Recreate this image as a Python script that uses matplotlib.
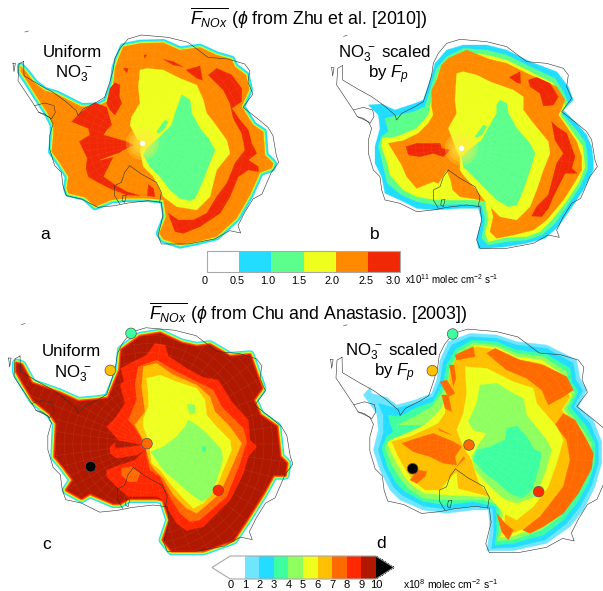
#!/usr/bin/env python3
"""Antarctic NOx flux maps, four panels with two discrete colour bars."""

import matplotlib
matplotlib.use("Agg")
import matplotlib.pyplot as plt
from matplotlib.colors import BoundaryNorm, ListedColormap
from matplotlib.cm import ScalarMappable
from matplotlib.patches import Polygon
import numpy as np

plt.rcParams["font.family"] = ["Liberation Sans", "DejaVu Sans"]
plt.rcParams["mathtext.fontset"] = "custom"
plt.rcParams["mathtext.rm"] = "Liberation Sans"
plt.rcParams["mathtext.it"] = "Liberation Sans:italic"
plt.rcParams["mathtext.bf"] = "Liberation Sans:bold"
plt.rcParams["mathtext.default"] = "regular"

W, H = 603, 591

# ── colours ─────────────────────────────────────────────────────────────────
TOP_COLORS = ["#ffffff", "#22ddff", "#5cff8c", "#eeff1e", "#ff8a00", "#f02805"]
TOP_BOUNDS = [0, 0.5, 1.0, 1.5, 2.0, 2.5, 3.0]
TOP_LABELS = ["0", "0.5", "1.0", "1.5", "2.0", "2.5", "3.0"]
TOP_LABEL_X = [205, 237, 268, 299, 332, 366, 393]
LOW_COLORS = ["#ffffff", "#6fe5ff", "#22ddff", "#3dffa0", "#8fff60",
              "#eeff1e", "#ffc000", "#ff6a00", "#ff2800", "#b01800"]
LOW_BOUNDS = [0, 1, 2, 3, 4, 5, 6, 7, 8, 9, 10]
CYAN, GREEN, YELLOW, ORANGE, RED = TOP_COLORS[1:]
L1, L2, L3, L4, L5, L6, L7, L8, DARK = LOW_COLORS[1:]

# ── outlines (map units, 3 units = 1 pixel) ────────────────────────────────
COAST = [(127, 197), (128, 240), (175, 268), (215, 290), (250, 315), (285, 345), (290, 360),
         (305, 340), (345, 320), (370, 305), (385, 260), (395, 225), (400, 190), (415, 160),
         (440, 130), (480, 118), (560, 125), (620, 140), (680, 185), (740, 190), (790, 205),
         (805, 225), (800, 260), (815, 295), (785, 335), (830, 370), (860, 395), (875, 420),
         (885, 480), (892, 500), (870, 530), (842, 595), (815, 610), (790, 650), (770, 690),
         (778, 712), (745, 705), (700, 730), (620, 745), (540, 745), (530, 720), (545, 660),
         (540, 620), (500, 615), (440, 622), (400, 630), (350, 635), (300, 610), (255, 600),
         (245, 570), (240, 530), (220, 510), (205, 460), (205, 420), (215, 385), (205, 365),
         (172, 350), (160, 330), (110, 255), (113, 205), (127, 197)]
ROSS_LINE = [(445, 510), (480, 535), (525, 560), (540, 590), (535, 620)]
RONNE_LINE = [(445, 510), (430, 530), (420, 560), (400, 570), (400, 600), (415, 625)]
BERKNER = [(425, 600), (435, 598), (430, 620), (422, 615), (425, 600)]
SHELF = [(160, 330), (190, 322), (218, 330), (222, 350), (210, 370), (190, 355), (172, 350)]
ISLAND = [(95, 203), (102, 203), (98, 228), (95, 203)]
TIP_ROCK = [(131, 109), (141, 106)]

A_POLE = (427, 430)
B_POLE = (483, 443)
C_POLE = (441, 431)
D_POLE = (507, 435)

A_ORANGE = [(62, 198), (78, 215), (105, 250), (135, 272), (170, 282), (215, 305), (245, 320),
            (295, 318), (320, 305), (340, 250), (345, 205), (355, 175), (370, 140), (420, 130),
            (490, 128), (540, 150), (600, 142), (650, 165), (695, 178), (705, 200), (738, 225),
            (748, 268), (725, 320), (760, 375), (790, 395), (795, 465), (820, 490), (815, 505),
            (780, 518), (750, 585), (710, 655), (650, 710), (590, 725), (540, 735), (490, 718),
            (478, 700), (498, 650), (490, 600), (440, 595), (380, 595), (335, 600), (285, 620),
            (255, 592), (205, 580), (200, 565), (205, 530), (180, 490), (155, 455), (160, 405),
            (160, 375), (140, 335), (110, 290), (85, 250), (62, 215)]
A_YELLOW = [(420, 210), (440, 205), (490, 210), (540, 235), (590, 255), (610, 300), (620, 340),
            (640, 365), (680, 420), (690, 460), (650, 510), (630, 590), (590, 630), (530, 620),
            (490, 590), (460, 530), (430, 500), (420, 450), (430, 430), (410, 415), (390, 375),
            (395, 350), (420, 310), (415, 260)]
A_GREEN = [(545, 285), (555, 290), (570, 300), (575, 340), (600, 385), (625, 415), (645, 450),
           (625, 500), (610, 540), (585, 595), (570, 602), (540, 595), (510, 570), (480, 530),
           (450, 500), (430, 465), (440, 445), (480, 410), (515, 375), (525, 340)]
A_GREEN_2 = [(470, 395), (495, 360), (505, 365), (490, 390), (475, 400)]
A_RED = [
    [(215, 365), (245, 335), (285, 308), (320, 322), (335, 375), (320, 390), (310, 405), (380, 425),
     (400, 435), (370, 450), (340, 470), (320, 510), (310, 530), (345, 555), (380, 575), (420, 587),
     (380, 585), (330, 565), (290, 545), (265, 530), (258, 505), (262, 475), (238, 425), (270, 405),
     (265, 385)],
    [(320, 310), (330, 265), (345, 248), (360, 255), (358, 290), (365, 310), (345, 345), (330, 330)],
    [(490, 178), (520, 185), (548, 200), (520, 195)],
    [(558, 210), (600, 198), (607, 240), (590, 235)],
    [(625, 225), (650, 205), (695, 225), (725, 265), (725, 305), (695, 325), (720, 360), (745, 390),
     (755, 430), (770, 460), (745, 480), (775, 500), (775, 515), (745, 510), (715, 530), (690, 590),
     (660, 640), (600, 680), (550, 700), (525, 695), (505, 640), (535, 660), (580, 660), (620, 640),
     (650, 590), (680, 550), (705, 490), (735, 450), (725, 400), (700, 355), (690, 310), (670, 270)],
    [(445, 553), (460, 565), (465, 590), (442, 588)],
    [(370, 205), (385, 205), (380, 218)],
    [(432, 165), (440, 165), (434, 175)],
]
A_NOTCH = [(398, 450), (345, 463), (300, 480), (345, 470)]

B_CYAN = [(205, 315), (245, 312), (285, 330), (345, 310), (370, 300), (385, 255), (395, 225),
          (405, 190), (440, 150), (490, 135), (560, 135), (620, 150), (690, 185), (770, 215),
          (805, 260), (820, 300), (790, 330), (830, 370), (860, 405), (875, 440), (880, 480),
          (880, 510), (850, 570), (810, 630), (775, 680), (735, 715), (680, 730), (620, 740),
          (560, 745), (535, 745), (530, 715), (545, 660), (535, 625), (480, 625), (410, 630),
          (350, 625), (300, 600), (255, 580), (245, 530), (225, 490), (225, 440), (240, 385),
          (235, 345)]
B_GREEN = [(255, 355), (300, 345), (340, 335), (375, 320), (395, 255), (410, 205), (440, 170),
           (490, 145), (560, 150), (620, 165), (690, 200), (765, 235), (790, 275), (805, 310),
           (785, 340), (825, 385), (855, 425), (862, 470), (862, 510), (840, 560), (800, 620),
           (765, 670), (725, 705), (680, 720), (620, 725), (565, 735), (545, 715), (555, 660),
           (545, 615), (480, 612), (410, 615), (350, 605), (305, 585), (262, 550), (250, 500),
           (235, 440), (245, 410), (265, 395)]
B_YELLOW = [(247, 415), (290, 410), (350, 385), (385, 345), (400, 270), (415, 220), (440, 185),
            (490, 155), (560, 165), (620, 180), (690, 215), (760, 250), (780, 285), (795, 315),
            (780, 345), (820, 400), (848, 440), (855, 500), (835, 550), (795, 610), (755, 660),
            (720, 695), (680, 710), (620, 712), (565, 725), (555, 700), (565, 660), (555, 605),
            (525, 600), (480, 600), (410, 600), (350, 590), (310, 570), (270, 525), (262, 490),
            (245, 440)]
B_ORANGE = [(265, 430), (310, 422), (355, 400), (385, 370), (400, 345), (395, 320), (395, 270),
            (410, 240), (425, 195), (445, 175), (500, 150), (570, 178), (620, 190), (685, 222),
            (770, 260), (795, 300), (785, 325), (775, 345), (800, 380), (830, 425), (845, 470),
            (845, 510), (825, 545), (790, 600), (740, 660), (700, 690), (640, 705), (590, 715),
            (570, 695), (580, 650), (570, 610), (530, 598), (480, 590), (458, 570), (452, 540),
            (440, 510), (415, 550), (400, 545), (350, 565), (320, 530), (305, 495)]
B_YELLOW_2 = [(470, 220), (490, 215), (530, 225), (570, 245), (640, 270), (670, 290), (670, 330),
              (700, 370), (745, 425), (750, 460), (730, 510), (710, 570), (690, 620), (650, 660),
              (600, 650), (560, 610), (530, 570), (490, 525), (480, 510), (480, 470), (470, 450),
              (445, 385), (470, 340), (465, 300)]
B_GREEN_2 = [(600, 300), (620, 310), (625, 340), (650, 385), (690, 430), (705, 460), (690, 510),
             (670, 570), (650, 615), (625, 620), (590, 600), (550, 560), (510, 520), (490, 500),
             (485, 470), (500, 455), (545, 420), (570, 375), (590, 340), (590, 315)]
B_GREEN_3 = [(525, 410), (550, 375), (560, 380), (545, 405), (530, 412)]
B_RED = [
    [(318, 440), (350, 430), (420, 430), (425, 445), (450, 450), (440, 460), (430, 470), (400, 460),
     (360, 470), (325, 465)],
    [(628, 232), (660, 215), (662, 250), (650, 248)],
    [(685, 240), (710, 232), (750, 250), (775, 290), (760, 315), (730, 318), (720, 280), (690, 260)],
    [(755, 365), (770, 380), (800, 400), (825, 470), (815, 505), (832, 520), (795, 520), (760, 590),
     (745, 625), (725, 650), (695, 648), (710, 620), (745, 585), (770, 490), (790, 460), (765, 420)],
]

C_DARK = [(50, 190), (65, 195), (95, 250), (130, 262), (180, 280), (235, 305), (290, 300),
          (325, 295), (360, 210), (365, 150), (420, 110), (480, 100), (545, 130), (590, 140),
          (630, 135), (690, 170), (750, 165), (785, 265), (760, 300), (780, 345), (830, 380),
          (840, 470), (860, 490), (855, 525), (820, 525), (790, 580), (740, 660), (700, 720),
          (610, 752), (515, 752), (490, 720), (510, 660), (490, 600), (470, 595), (385, 595),
          (360, 610), (340, 610), (270, 580), (245, 595), (200, 570), (220, 540), (190, 500),
          (165, 470), (170, 370), (150, 340), (100, 300), (70, 250), (50, 215)]
C_RED = [(400, 185), (440, 165), (465, 130), (495, 135), (505, 168), (560, 205), (610, 232),
         (655, 240), (695, 305), (745, 360), (750, 420), (770, 440), (745, 470), (730, 520),
         (690, 600), (650, 640), (610, 680), (560, 692), (530, 670), (505, 630), (490, 600),
         (470, 590), (385, 590), (355, 565), (320, 530), (320, 510), (360, 495), (405, 480),
         (435, 450), (410, 465), (350, 475), (330, 460), (330, 440), (355, 420), (320, 380),
         (345, 355), (375, 310), (360, 255), (372, 245), (362, 205)]
C_DARK_2 = [(345, 420), (425, 435), (345, 445)]
C_ORANGE = [(415, 200), (470, 180), (530, 215), (590, 245), (640, 270), (665, 320), (730, 385),
            (740, 425), (720, 490), (680, 590), (640, 625), (600, 660), (570, 665), (540, 640),
            (515, 600), (480, 530), (450, 510), (440, 470), (440, 440), (400, 375), (385, 360),
            (410, 300), (405, 250)]
C_ORANGE_2 = [(365, 505), (395, 500), (420, 520), (410, 545), (385, 545), (365, 525)]
C_GOLD = [(430, 200), (470, 190), (520, 225), (590, 255), (630, 290), (645, 335), (690, 380),
          (725, 430), (700, 490), (660, 580), (620, 615), (590, 640), (560, 625), (520, 585),
          (490, 535), (465, 510), (450, 490), (440, 455), (430, 420), (405, 375), (435, 335),
          (425, 260)]
C_YELLOW = [(440, 235), (480, 225), (530, 245), (590, 265), (615, 300), (620, 345), (650, 380),
            (690, 420), (695, 450), (670, 510), (650, 560), (610, 610), (580, 625), (545, 590),
            (510, 550), (480, 510), (455, 490), (450, 450), (445, 420), (430, 380), (430, 355),
            (445, 320), (445, 280)]
C_LGREEN = [(565, 360), (590, 375), (620, 400), (665, 450), (668, 480), (650, 540), (630, 590),
            (605, 605), (570, 580), (530, 545), (490, 510), (470, 480), (452, 455), (490, 440),
            (530, 410), (555, 380)]
C_LGREEN_2 = [(562, 312), (585, 315), (585, 340), (568, 342)]
C_TEAL = [(606, 440), (618, 440), (616, 455), (608, 455)]

D_LCYAN = [(190, 285), (210, 262), (215, 280), (260, 292), (290, 315), (345, 300), (395, 280),
           (410, 240), (420, 180), (445, 125), (510, 100), (590, 105), (650, 125), (740, 135),
           (830, 180), (840, 235), (860, 270), (835, 320), (880, 360), (905, 425), (905, 490),
           (885, 560), (850, 630), (810, 680), (740, 730), (640, 752), (560, 752), (570, 690),
           (565, 630), (520, 630), (440, 640), (370, 630), (300, 600), (270, 570), (240, 510),
           (220, 450), (235, 390), (230, 340)]
D_CYAN = [(235, 310), (290, 325), (345, 310), (400, 290), (420, 245), (430, 185), (455, 135),
          (510, 110), (590, 115), (650, 135), (740, 145), (820, 190), (828, 240), (848, 272),
          (822, 320), (870, 370), (895, 430), (895, 490), (875, 555), (840, 620), (800, 670),
          (735, 720), (640, 742), (575, 745), (582, 690), (578, 625), (520, 618), (440, 628),
          (370, 618), (305, 585), (280, 560), (252, 505), (235, 450), (250, 400), (250, 345)]
D_TEAL = [(265, 345), (300, 350), (345, 325), (400, 305), (430, 250), (440, 195), (465, 150),
          (515, 120), (590, 125), (650, 150), (735, 160), (810, 205), (815, 245), (835, 275),
          (812, 322), (860, 380), (885, 430), (885, 490), (865, 550), (830, 610), (790, 660),
          (730, 705), (640, 730), (585, 735), (590, 690), (588, 620), (520, 605), (440, 615),
          (370, 605), (315, 575), (290, 550), (262, 500), (245, 445), (260, 410), (280, 395),
          (270, 370)]
D_LGREEN = [(290, 375), (345, 350), (395, 320), (440, 260), (448, 205), (475, 155), (520, 128),
            (590, 135), (650, 160), (730, 170), (800, 215), (805, 250), (825, 280), (800, 325),
            (850, 390), (875, 430), (875, 490), (855, 545), (820, 600), (780, 650), (725, 690),
            (640, 720), (592, 722), (598, 690), (598, 615), (550, 600), (440, 600), (370, 595),
            (325, 565), (300, 535), (272, 490), (255, 440), (280, 415), (335, 400), (370, 375)]
D_YELLOW = [(262, 425), (330, 395), (375, 375), (405, 345), (425, 325), (445, 265), (452, 215),
            (480, 165), (525, 135), (590, 142), (650, 170), (725, 180), (790, 225), (795, 255),
            (815, 285), (790, 328), (840, 395), (865, 435), (865, 490), (845, 540), (810, 595),
            (770, 640), (715, 680), (640, 708), (600, 712), (606, 690), (610, 610), (560, 590),
            (440, 585), (375, 580), (335, 555), (310, 525), (285, 480), (265, 440)]
D_GOLD = [(275, 425), (330, 410), (385, 385), (415, 370), (435, 340), (440, 280), (450, 220),
          (470, 170), (530, 140), (590, 150), (650, 178), (720, 190), (785, 232), (790, 260),
          (810, 290), (785, 330), (835, 400), (858, 440), (858, 490), (838, 535), (803, 590),
          (760, 635), (705, 672), (640, 698), (612, 700), (618, 610), (570, 590), (475, 565),
          (470, 515), (440, 545), (420, 570), (375, 570), (345, 545), (320, 515), (295, 470)]
D_YELLOW_2 = [(495, 200), (560, 205), (640, 245), (700, 265), (710, 310), (770, 380), (790, 420),
              (770, 490), (745, 560), (700, 620), (650, 660), (610, 640), (570, 590), (535, 545),
              (515, 480), (490, 440), (470, 390), (490, 340), (500, 280)]
D_LGREEN_2 = [(540, 255), (590, 250), (640, 280), (670, 295), (680, 345), (740, 420), (755, 450),
              (735, 520), (705, 590), (650, 610), (610, 595), (560, 550), (525, 510), (515, 470),
              (535, 435), (560, 400), (520, 390), (505, 365), (530, 310)]
D_TEAL_2 = [(620, 385), (650, 378), (680, 410), (700, 445), (725, 460), (715, 510), (695, 570),
            (665, 595), (630, 580), (590, 545), (555, 520), (520, 480), (530, 450), (570, 440),
            (615, 420)]
D_ORANGE = [
    [(305, 430), (350, 415), (400, 400), (460, 425), (485, 440), (465, 470), (470, 495), (430, 490),
     (390, 470), (340, 455)],
    [(330, 540), (345, 520), (355, 510), (380, 515), (375, 530), (350, 550)],
    [(465, 165), (520, 140), (525, 170), (470, 180)],
    [(560, 160), (585, 145), (660, 180), (730, 195), (800, 230), (820, 270), (790, 290), (745, 315),
     (725, 270), (680, 235), (620, 210)],
    [(420, 245), (440, 240), (465, 280), (445, 290)],
    [(425, 285), (445, 285), (455, 335), (435, 325)],
    [(448, 195), (462, 195), (468, 235), (460, 260)],
    [(765, 375), (790, 340), (825, 360), (860, 420), (880, 460), (875, 505), (835, 580), (790, 640),
     (730, 680), (690, 700), (668, 690), (720, 650), (790, 560), (810, 480), (800, 420)],
    [(590, 640), (615, 670), (640, 690), (625, 720), (605, 695)],
    [(415, 385), (455, 405), (420, 392)],
    [(470, 500), (490, 470), (495, 475)],
]

# sampling sites on the lower maps
SITE_COLORS = [L3, L6, L7, L8, "black"]
C_SITES_X = [393, 331, 441, 655, 272]
C_SITES_Y = [100, 211, 431, 571, 500]
D_SITES_X = [458, 397, 507, 716, 338]
D_SITES_Y = [102, 212, 435, 575, 506]


def fig_axes(fig, x, y, w, h):
    """Axes from a pixel box given from the top left of the figure."""
    return fig.add_axes([x / W, 1 - (y + h) / H, w / W, h / H])


def map_axes(fig, x, y, w, h):
    ax = fig_axes(fig, x, y, w, h)
    ax.set_xlim(0, w * 3)
    ax.set_ylim(h * 3, 0)
    ax.axis("off")
    ax.patch.set_alpha(0)
    return ax


def fill(ax, outline, color, zorder=2, **kw):
    patch = Polygon(outline, closed=True, facecolor=color, edgecolor=color,
                    linewidth=kw.pop("linewidth", 0.2), zorder=zorder, clip_on=False, **kw)
    ax.add_patch(patch)
    return patch


def bands(ax, outline, widths, colors):
    """Narrow contour bands hugging the outline, drawn as wide edges."""
    for lw, color in zip(widths, colors):
        ax.add_patch(Polygon(outline, closed=True, facecolor=color, edgecolor=color,
                             linewidth=lw, joinstyle="round", zorder=1.5, clip_on=False))


def grid(ax, pole, clip_outline, scale, alpha):
    """Faint model grid, it shows as thin light lines in the colours."""
    clip = Polygon(clip_outline, closed=True, transform=ax.transData)
    px, py = pole
    for ang in np.deg2rad(np.arange(0, 360, 7.5)):
        line, = ax.plot([px, px + 430 * scale * np.cos(ang)], [py, py + 430 * scale * np.sin(ang)],
                        color="white", lw=0.25, alpha=alpha, zorder=4)
        line.set_clip_path(clip)
    for rad in np.arange(40, 430, 24):
        t = np.linspace(0, 2 * np.pi, 180)
        line, = ax.plot(px + rad * scale * np.cos(t), py + rad * scale * np.sin(t),
                        color="white", lw=0.25, alpha=alpha, zorder=4)
        line.set_clip_path(clip)


def glow(ax, pole, colour, radii, alpha):
    for rad in radii:
        ax.scatter([pole[0]], [pole[1]], s=(rad / 3 * 2 * 0.72) ** 2, color=colour,
                   alpha=alpha, linewidths=0, zorder=5)


def coast(ax, pole, scale):
    for line in [COAST, ROSS_LINE, RONNE_LINE, BERKNER, SHELF, ISLAND, TIP_ROCK]:
        xy = np.array(line, dtype=float)
        ax.plot(pole[0] + (xy[:, 0] - B_POLE[0]) * scale, pole[1] + (xy[:, 1] - B_POLE[1]) * scale,
                color="#303030", lw=0.4, zorder=6, clip_on=False)


def sites(ax, xs, ys):
    ax.scatter(xs, ys, s=58, c=SITE_COLORS, edgecolors="#555555", linewidths=0.5,
               zorder=8, clip_on=False)


def colorbar(fig, box, colors, bounds, extend):
    cax = fig_axes(fig, *box)
    cmap = ListedColormap(colors)
    if extend == "both":
        cmap = cmap.with_extremes(under="white", over="black")
    norm = BoundaryNorm(bounds, len(colors))
    cb = fig.colorbar(ScalarMappable(norm=norm, cmap=cmap), cax=cax, orientation="horizontal",
                      extend=extend, extendfrac=0.125 if extend == "both" else None,
                      spacing="uniform", drawedges=False)
    cb.outline.set_edgecolor("#a8a8a8")
    cb.outline.set_linewidth(0.8)
    cb.minorticks_off()
    cax.tick_params(length=0, pad=0.5)
    return cb


def main():
    fig = plt.figure(figsize=(W / 100, H / 100), dpi=100)

    # a
    ax = map_axes(fig, 0, 0, 300, 250)
    bands(ax, A_ORANGE, [5.2, 2.9, 1.4], [CYAN, GREEN, YELLOW])
    fill(ax, A_ORANGE, ORANGE)
    for part in A_RED:
        fill(ax, part, RED, zorder=2.2)
    fill(ax, A_NOTCH, ORANGE, zorder=2.3)
    fill(ax, A_YELLOW, YELLOW, zorder=2.4)
    fill(ax, A_GREEN, GREEN, zorder=2.6)
    fill(ax, A_GREEN_2, GREEN, zorder=2.6)
    grid(ax, A_POLE, A_ORANGE, 1.0, 0.12)
    glow(ax, A_POLE, "#ffee40", [50, 40, 30, 22], 0.25)
    glow(ax, A_POLE, "white", [8], 1.0)
    coast(ax, A_POLE, 1.0)

    # b
    ax = map_axes(fig, 300, 0, 303, 250)
    fill(ax, B_CYAN, CYAN)
    fill(ax, B_GREEN, GREEN, zorder=2.1)
    fill(ax, B_YELLOW, YELLOW, zorder=2.2)
    fill(ax, B_ORANGE, ORANGE, zorder=2.3)
    for part in B_RED:
        fill(ax, part, RED, zorder=2.4)
    fill(ax, B_YELLOW_2, YELLOW, zorder=2.5)
    fill(ax, B_GREEN_2, GREEN, zorder=2.6)
    fill(ax, B_GREEN_3, GREEN, zorder=2.6)
    grid(ax, B_POLE, B_ORANGE, 1.0, 0.12)
    glow(ax, B_POLE, "#ffee40", [50, 40, 30, 22], 0.25)
    glow(ax, B_POLE, "white", [8], 1.0)
    coast(ax, B_POLE, 1.0)

    # c
    ax = map_axes(fig, 0, 300, 300, 250)
    bands(ax, C_DARK, [6.8, 5.4, 4.1, 2.9, 1.6], [CYAN, GREEN, YELLOW, L7, L8])
    fill(ax, C_DARK, DARK)
    fill(ax, C_RED, L8, zorder=2.1)
    fill(ax, C_DARK_2, DARK, zorder=2.15)
    fill(ax, C_ORANGE, L7, zorder=2.2)
    fill(ax, C_ORANGE_2, L7, zorder=2.2)
    fill(ax, C_GOLD, L6, zorder=2.3)
    fill(ax, C_YELLOW, L5, zorder=2.4)
    fill(ax, C_LGREEN, L4, zorder=2.5)
    fill(ax, C_LGREEN_2, L4, zorder=2.5)
    fill(ax, C_TEAL, L3, zorder=2.6)
    grid(ax, C_POLE, C_DARK, 1.07, 0.14)
    coast(ax, C_POLE, 1.07)
    sites(ax, C_SITES_X, C_SITES_Y)

    # d
    ax = map_axes(fig, 300, 300, 303, 250)
    fill(ax, D_LCYAN, L1)
    fill(ax, D_CYAN, L2, zorder=2.05)
    fill(ax, D_TEAL, L3, zorder=2.1)
    fill(ax, D_LGREEN, L4, zorder=2.15)
    fill(ax, D_YELLOW, L5, zorder=2.2)
    fill(ax, D_GOLD, L6, zorder=2.25)
    for part in D_ORANGE:
        fill(ax, part, L7, zorder=2.3)
    fill(ax, D_YELLOW_2, L5, zorder=2.35)
    fill(ax, D_LGREEN_2, L4, zorder=2.4)
    fill(ax, D_TEAL_2, L3, zorder=2.45)
    grid(ax, D_POLE, D_LCYAN, 1.07, 0.12)
    coast(ax, D_POLE, 1.07)
    sites(ax, D_SITES_X, D_SITES_Y)

    # colour bars
    cb = colorbar(fig, (207, 251, 193, 21), TOP_COLORS, TOP_BOUNDS, "neither")
    cb.set_ticks(TOP_BOUNDS, labels=[])
    cb = colorbar(fig, (212, 556, 182, 23), LOW_COLORS, LOW_BOUNDS, "both")
    cb.set_ticks(LOW_BOUNDS, labels=[str(b) for b in LOW_BOUNDS], fontsize=8)

    # text on a pixel overlay
    ov = fig_axes(fig, 0, 0, W, H)
    ov.set_xlim(0, W)
    ov.set_ylim(H, 0)
    ov.axis("off")
    ov.patch.set_alpha(0)

    no3 = r"NO$_3^{\,-}$"
    fpit = r"by $\mathit{F_p}$"
    ov.text(190, 25, r"$\overline{\mathit{F_{NOx}}}$ ($\mathit{\phi}$ from Zhu et al. [2010])",
            fontsize=12.8, va="baseline")
    ov.text(149, 320, r"$\overline{\mathit{F_{NOx}}}$ ($\mathit{\phi}$ from Chu and Anastasio. [2003])",
            fontsize=12.8, va="baseline")
    ov.text(72, 57, "Uniform", fontsize=12.2, ha="center", va="baseline")
    ov.text(74, 78, no3, fontsize=12.2, ha="center", va="baseline")
    ov.text(384, 57, no3 + " scaled", fontsize=12.2, ha="center", va="baseline")
    ov.text(389, 78, fpit, fontsize=12.2, ha="center", va="baseline")
    ov.text(71, 356, "Uniform", fontsize=12.2, ha="center", va="baseline")
    ov.text(73, 377, no3, fontsize=12.2, ha="center", va="baseline")
    ov.text(391, 355, no3 + " scaled", fontsize=12.2, ha="center", va="baseline")
    ov.text(395, 376, fpit, fontsize=12.2, ha="center", va="baseline")
    for x, y, lab in [(40, 239, "a"), (370, 239, "b"), (42, 549, "c"), (376, 548, "d")]:
        ov.text(x, y, lab, fontsize=12.5, va="baseline")
    for x, lab in zip(TOP_LABEL_X, TOP_LABELS):
        ov.text(x, 284, lab, fontsize=7.8, ha="center", va="baseline")
    ov.text(405, 284, r"x10$^{11}$ molec cm$^{-2}$ s$^{-1}$", fontsize=7, va="baseline")
    ov.text(403, 589, r"x10$^{8}$ molec cm$^{-2}$ s$^{-1}$", fontsize=7.5, va="baseline")

    fig.savefig("out.png", dpi=100)
    plt.close(fig)


if __name__ == "__main__":
    main()
